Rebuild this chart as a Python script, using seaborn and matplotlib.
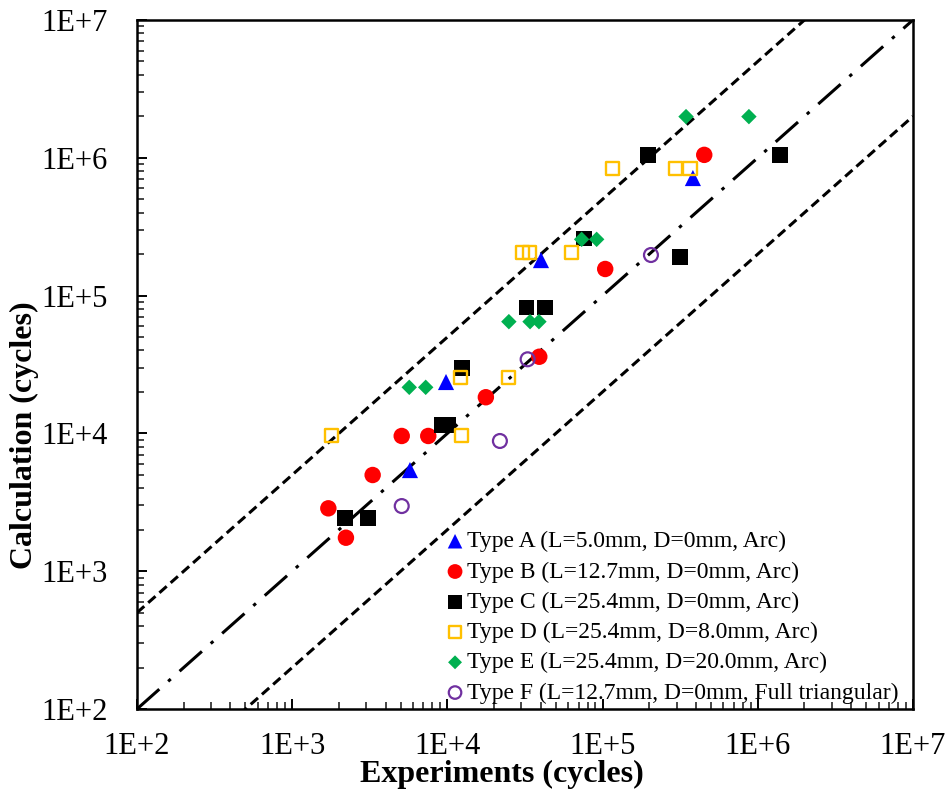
import numpy as np
import pandas as pd
import matplotlib
matplotlib.use("Agg")
import matplotlib.pyplot as plt
import seaborn as sns
from matplotlib.ticker import FixedLocator, LogLocator, NullFormatter

# ---------------- data ----------------
type_a_x = [3.82e5, 4.01e4, 9.8e3, 5.74e3]
type_a_y = [7.13e5, 1.81e5, 2.36e4, 5.42e3]

type_b_x = [4.52e5, 1.04e5, 3.91e4, 1.77e4, 7.53e3, 5.08e3, 3.3e3, 1.71e3, 2.22e3]
type_b_y = [1.05e6, 1.56e5, 3.6e4, 1.83e4, 9.58e3, 9.58e3, 4.99e3, 2.86e3, 1.75e3]

type_c_x = [1.39e6, 1.96e5, 3.15e5, 7.62e4, 3.24e4, 4.27e4, 1.24e4, 9.14e3, 1.01e4, 2.19e3, 3.09e3]
type_c_y = [1.05e6, 1.05e6, 1.9e5, 2.6e5, 8.22e4, 8.22e4, 2.97e4, 1.15e4, 1.15e4, 2.44e3, 2.44e3]

type_d_x = [1.16e5, 2.95e5, 3.66e5, 6.35e4, 3.03e4, 3.36e4, 1.21e4, 2.49e4, 1.24e4, 1.8e3]
type_d_y = [8.3e5, 8.3e5, 8.3e5, 2.05e5, 2.05e5, 2.05e5, 2.54e4, 2.54e4, 9.63e3, 9.63e3]

type_e_x = [3.45e5, 8.77e5, 7.33e4, 9.16e4, 2.49e4, 3.41e4, 3.89e4, 5.68e3, 7.25e3]
type_e_y = [1.99e6, 1.99e6, 2.56e5, 2.56e5, 6.47e4, 6.47e4, 6.47e4, 2.16e4, 2.16e4]

type_f_x = [2.05e5, 3.29e4, 2.18e4, 5.08e3]
type_f_y = [1.97e5, 3.45e4, 8.81e3, 2.97e3]

labels = [
    "Type A (L=5.0mm, D=0mm, Arc)",
    "Type B (L=12.7mm, D=0mm, Arc)",
    "Type C (L=25.4mm, D=0mm, Arc)",
    "Type D (L=25.4mm, D=8.0mm, Arc)",
    "Type E (L=25.4mm, D=20.0mm, Arc)",
    "Type F (L=12.7mm, D=0mm, Full triangular)",
]

tick_values = [1e2, 1e3, 1e4, 1e5, 1e6, 1e7]
tick_labels = ["1E+2", "1E+3", "1E+4", "1E+5", "1E+6", "1E+7"]

ref_x = [1e2, 1e7]          # reference lines range
scatter_factor = 5          # +/- factor band

# ---------------- style ----------------
sns.set_theme(style="white")
plt.rcParams["font.family"] = ["Liberation Serif", "DejaVu Serif"]
plt.rcParams["lines.scale_dashes"] = False

fig = plt.figure(figsize=(9.5, 7.93), dpi=100)
ax = fig.add_axes([0.1442, 0.1059, 0.8168, 0.8689])
ax.set_xscale("log")
ax.set_yscale("log")

# reference lines
rx = np.array(ref_x)
sns.lineplot(x=rx, y=rx, ax=ax, color="black", linewidth=2.2, zorder=1)
ax.lines[-1].set_dashes([21.5, 8.5, 2.5, 8.5])
sns.lineplot(x=rx, y=rx * scatter_factor, ax=ax, color="black", linewidth=2.2, zorder=1)
ax.lines[-1].set_dashes([7.0, 3.8])
sns.lineplot(x=rx, y=rx / scatter_factor, ax=ax, color="black", linewidth=2.2, zorder=1)
ax.lines[-1].set_dashes([7.0, 3.8])
for ln in ax.lines:
    ln.set_dash_capstyle("butt")

# series
sns.scatterplot(x=type_a_x, y=type_a_y, ax=ax, marker="^", s=135,
                color="#0000FF", edgecolor="none", linewidth=0, label=labels[0], zorder=3)
sns.scatterplot(x=type_b_x, y=type_b_y, ax=ax, marker="o", s=140,
                color="#FF0000", edgecolor="none", linewidth=0, label=labels[1], zorder=3)
sns.scatterplot(x=type_c_x, y=type_c_y, ax=ax, marker="s", s=125,
                color="#000000", edgecolor="none", linewidth=0, label=labels[2], zorder=3)
sns.scatterplot(x=type_d_x, y=type_d_y, ax=ax, marker="s", s=88,
                facecolor="none", edgecolor="#FFC000", linewidth=1.7, label=labels[3], zorder=3)
sns.scatterplot(x=type_e_x, y=type_e_y, ax=ax, marker="D", s=62,
                color="#00B050", edgecolor="none", linewidth=0, label=labels[4], zorder=3)
sns.scatterplot(x=type_f_x, y=type_f_y, ax=ax, marker="o", s=100,
                facecolor="none", edgecolor="#7030A0", linewidth=1.6, label=labels[5], zorder=3)

ax.set_xlim(1e2, 1e7)
ax.set_ylim(1e2, 1e7)

for axis in (ax.xaxis, ax.yaxis):
    axis.set_major_locator(FixedLocator(tick_values))
    axis.set_minor_locator(LogLocator(base=10, subs=np.arange(2, 10)))
    axis.set_minor_formatter(NullFormatter())
ax.set_xticklabels(tick_labels)
ax.set_yticklabels(tick_labels)

ax.tick_params(axis="both", which="major", direction="in", length=7, width=1.4,
               labelsize=22, colors="black", left=True, bottom=True, top=False, right=False)
ax.tick_params(axis="both", which="minor", direction="in", length=5, width=1.2,
               left=True, bottom=True, top=False, right=False)
ax.tick_params(axis="x", which="major", pad=16.5)
ax.tick_params(axis="y", which="major", pad=21)

for sp in ax.spines.values():
    sp.set_visible(True)
    sp.set_color("black")
    sp.set_linewidth(1.8)

ax.set_xlabel("Experiments (cycles)", fontsize=23, fontweight="bold", color="black")
ax.set_ylabel("Calculation (cycles)", fontsize=23, fontweight="bold", color="black")
ax.xaxis.set_label_coords(0.47, -0.0948)
ax.xaxis.label.set_va("center")
ax.yaxis.set_label_coords(-0.1452, 0.3977)
ax.yaxis.label.set_va("center")

leg = ax.legend(loc="upper left", bbox_to_anchor=(0.3977, 0.2585), frameon=False,
                fontsize=17, borderpad=0, handlelength=0.8, handletextpad=0.11,
                labelspacing=0.37, markerscale=0.9, borderaxespad=0)
for t in leg.get_texts():
    t.set_color("black")

ax.grid(False)
fig.savefig("out.png", dpi=100, facecolor="white")
